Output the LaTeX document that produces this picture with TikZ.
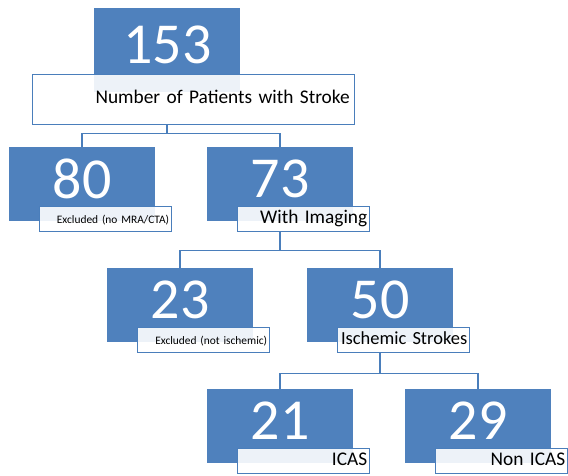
\documentclass[tikz,border=0pt]{standalone}
\usepackage{fontspec}
\setmainfont{Carlito}
\usepackage{xcolor}
\usepackage{tikz}
\definecolor{boxblue}{RGB}{79,129,189}
\definecolor{lineblue}{RGB}{74,126,187}

\begin{document}
\begin{tikzpicture}[x=0.02cm,y=-0.02cm]
            \tikzset{numbox/.style = {fill=boxblue, anchor=north west, inner sep=0pt,
                minimum width=2.92cm, minimum height=1.48cm, text=white,
                font=\fontsize{33}{33}\selectfont, text depth=6.8pt}}
            \tikzset{labbox/.style = {draw=lineblue, line width=0.85pt, fill=white,
                fill opacity=0.9, text opacity=1, anchor=north west,
                inner xsep=0.05cm, inner ysep=0pt, text width=2.54cm, align=right,
                minimum height=0.5cm, text height=0.7em, text depth=0.22em}}
            \tikzset{smalltxt/.style = {font=\fontsize{6.5}{8}\selectfont}}
            \tikzset{regtxt/.style = {font=\fontsize{11}{13}\selectfont}}
            \tikzset{midtxt/.style = {font=\fontsize{10.5}{12}\selectfont}}
            \tikzset{edge/.style = {draw=lineblue, line width=1.1pt}}
            \useasboundingbox (0,0) rectangle (568,476);

            % boxes
            \node[numbox, minimum height=1.68cm] (n153) at (94,8) {153};
            \node[labbox, text width=6.24cm, inner xsep=0.1cm, minimum height=1cm,
                font=\fontsize{11}{13}\selectfont] (l153) at (32,74) {Number of Patients with Stroke};
            \foreach \nm/\x/\y/\txt/\sz in {80/9/147/{Excluded (no MRA/CTA)}/smalltxt,
                73/207/147/{With Imaging}/regtxt,
                23/107/268/{Excluded (not ischemic)}/smalltxt,
                50/307/268/{Ischemic Strokes}/midtxt,
                21/207/389/{ICAS}/regtxt,
                29/405/389/{Non ICAS}/regtxt}
            {
              \node[numbox] (n\nm) at (\x,\y) {\nm};
              \node[labbox,\sz] (l\nm) at (\x+30,\y+59) {\txt};
            }

            % edges
            \foreach \y in {80,73} {\draw[edge] (l153.south -| n153) -- ++(0,8) -| (n\y);}
            \foreach \y in {23,50} {\draw[edge] (l73.south -| n73) -- ++(0,18) -| (n\y);}
            \foreach \y in {21,29} {\draw[edge] (l50.south -| n50) -- ++(0,20) -| (n\y);}

          \end{tikzpicture}
\end{document}
